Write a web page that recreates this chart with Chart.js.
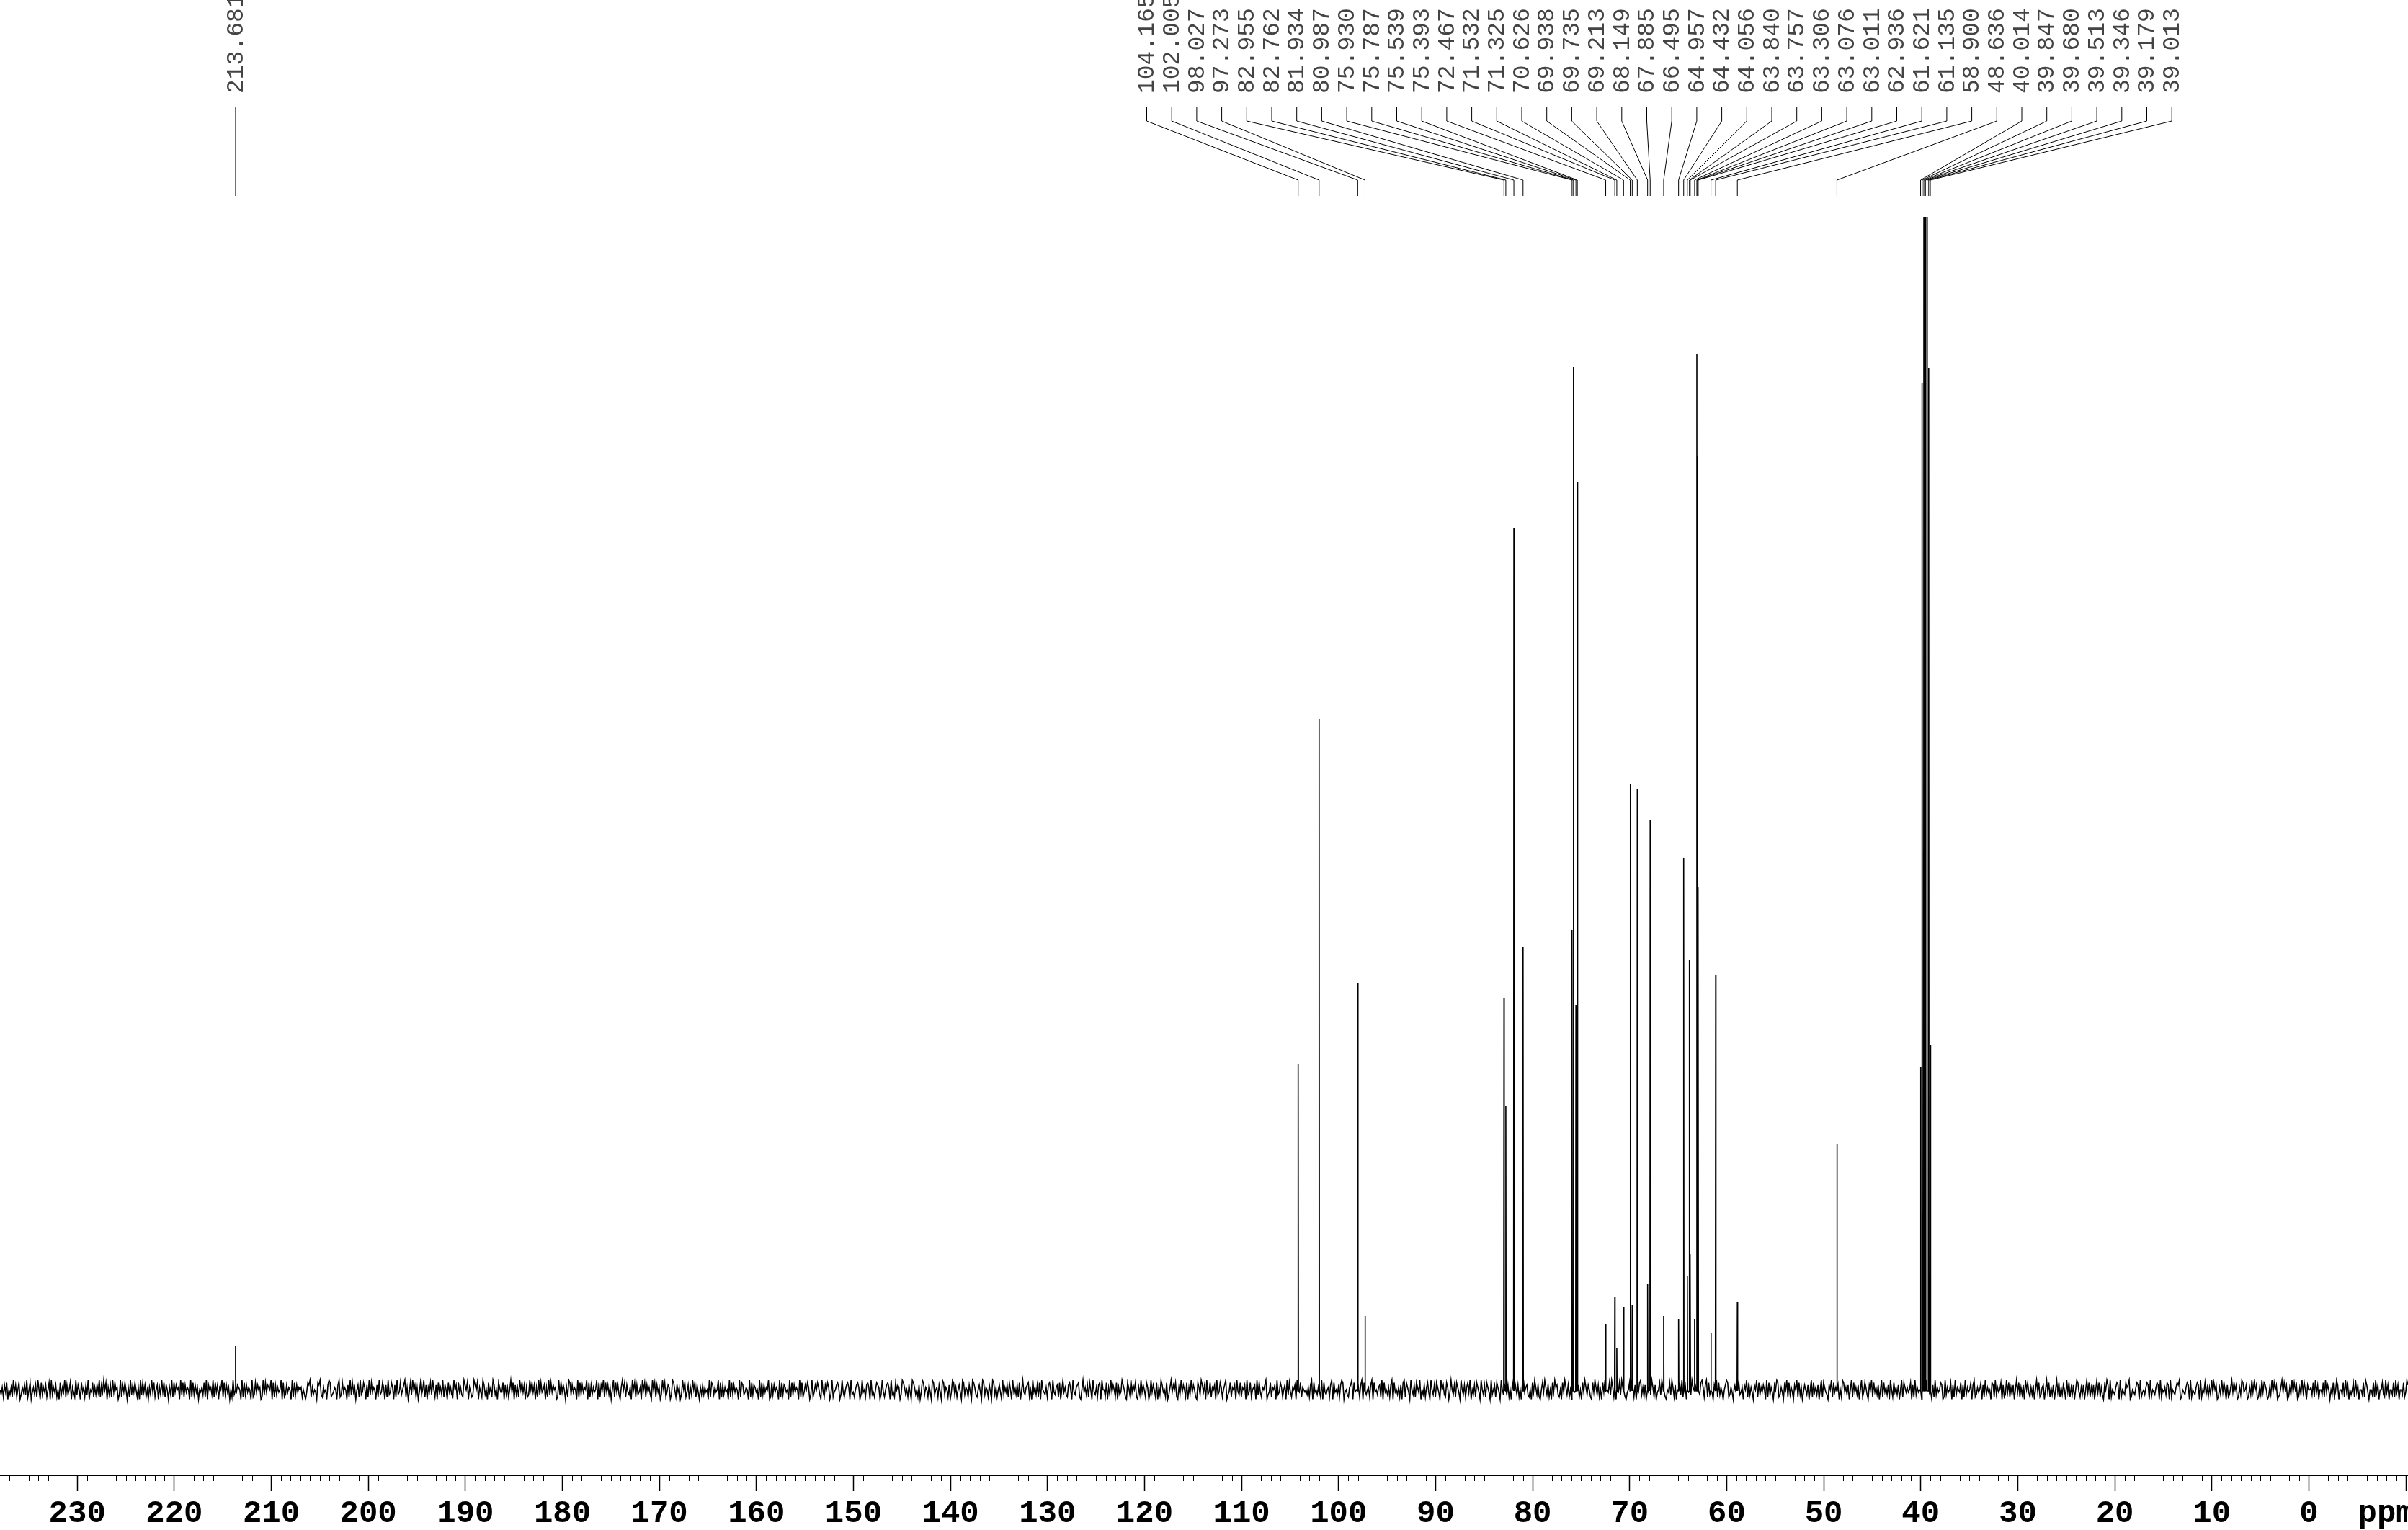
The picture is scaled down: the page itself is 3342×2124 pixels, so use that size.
<!DOCTYPE html>
<html>
<head>
<meta charset="utf-8">
<script src="https://cdn.jsdelivr.net/npm/chart.js@4.4.1/dist/chart.umd.min.js"></script>
<style>
  html, body { margin: 0; padding: 0; background: #fff; overflow: hidden; }
  canvas { display: block; }
</style>
</head>
<body>
<canvas id="nmr" width="3342" height="2134"></canvas>
<script>
// 13C peaks (ppm) and their heights (px above baseline)
const peakPpm = [
  213.681, 104.165, 102.005, 98.027, 97.273, 82.955, 82.762, 81.934, 80.987,
  75.930, 75.787, 75.539, 75.393, 72.467, 71.532, 71.325, 70.626, 69.938,
  69.735, 69.213, 68.149, 67.885, 66.495, 64.957, 64.432, 64.056, 63.840,
  63.757, 63.306, 63.076, 63.011, 62.936, 61.621, 61.135, 58.900, 48.636,
  40.014, 39.847, 39.680, 39.513, 39.346, 39.179, 39.013
];
const peakHeight = [
  62, 454, 933, 567, 104, 546, 396, 1198, 617,
  640, 1421, 536, 1262, 93, 131, 60, 117, 843,
  120, 836, 148, 793, 104, 100, 740, 160, 598,
  190, 100, 1440, 1298, 700, 80, 577, 123, 343,
  450, 1400, 1630, 1630, 1630, 1420, 480
];
// axis labels
const majorTicks = [230, 220, 210, 200, 190, 180, 170, 160, 150, 140, 130, 120,
  110, 100, 90, 80, 70, 60, 50, 40, 30, 20, 10, 0];
const unitLabel = 'ppm';
const unitTick = -8;
// visible ppm window
const ppmMax = 237.96;
const ppmMin = -10.22;

// baseline noise, one digit per sample (0..9, 4.5 = baseline)
const noiseRows = [
  "536274815362947258136473925814637295183647258193647251836492735816429375184627391548263749",
  "274958163729485613927485162937485261938472516394825716394827516392847561938274651928374615",
  "463829175639284716592837461529384765192837465192384756129384765918273645918237465192837465",
  "625314879263541879326451798234651792384651729384615729348617293846517293486172934861729348",
  "357926148395726148359271648395271846392751846329571846329758164239758164297351846297351864",
  "481736259481736295847162395847162938457162938475612938475162983746519283746591827364591827",
  "592847361592847316958274361958273461958274631958274613958247613985274613958247163958274163",
  "736451928736459182736451928374651928734651928376451928374659128374651928376451928374651928",
  "247586139247586319427586139245786139425786193425786139452786193425876139425786193428576139",
  "863527419863527149836527419835627419836527149836257419836527419863257419836527419836257419",
  "364728519463728159436782519463728195436278519436728159463278519436782159463728519436278195",
  "528163947528163497521863947582163947528613947528163974528136947582163947528163947521863974",
  "719348265719348625791348265719438265719348256719384265791348265719348625719384265719348265",
  "453627918453672918435627918453627981453267918453627918435627918453672918453627918453627189",
  "286419537286491537268419537286419573286149537286419537268491537286419537286419357286419537",
  "637251849637251894673251849637215849637251849673251849637251894637251849637521849637251849",
  "154839627154839672145839627154893627154839627145839672154839627154839267154839627154389627",
  "928364175928364157982364175928346175928364175928364751928364175982364175928364175928361475",
  "371592846371592864317592846371529846371592846371592486317592846371592846371952846371592864",
  "645817293645817239654817293645871293645817293654817293645817923645817293645187293645817239",
  "482637159482637195842637159482367159482637159482637519482637159842637159482637159482631759",
  "719254368719254386791254368719245368719254368719254638719254368791254368719254368719254836",
  "263948571263948517236948571263984571263948571263948751263948571236948571263948571263948517",
  "556382947155382947515382497155382947153582947155382974155382947155832947155382947155382497"
];

const noise = noiseRows.join('');
const pts = [];
for (let i = 0; i < noise.length; i++) {
  const ppm = ppmMax - (ppmMax - ppmMin) * i / (noise.length - 1);
  // keep the noise out of the peak flanks
  if (peakPpm.some(p => Math.abs(p - ppm) < 0.05)) continue;
  pts.push({ x: ppm, y: (noise.charCodeAt(i) - 48 - 4.5) * 3.3 });
}
peakPpm.forEach((p, i) => {
  pts.push({ x: p + 0.03, y: 0 }, { x: p, y: peakHeight[i] }, { x: p - 0.03, y: 0 });
});
pts.sort((a, b) => b.x - a.x);

const isMajor = v => majorTicks.includes(v) || v === -10;

// minor ticks + peak pick labels with their leader lines
const annot = {
  id: 'annot',
  afterDraw(chart) {
    const ctx = chart.ctx;
    const xs = chart.scales.x;
    const base = xs.top;
    ctx.save();
    ctx.strokeStyle = '#000';
    ctx.lineWidth = 1;
    for (let v = Math.ceil(ppmMin); v <= Math.floor(ppmMax); v++) {
      if (isMajor(v)) continue;
      const x = Math.round(xs.getPixelForValue(v)) + 0.5;
      ctx.beginPath();
      ctx.moveTo(x, base);
      ctx.lineTo(x, base + 8);
      ctx.stroke();
    }

    ctx.font = '33px "Liberation Mono", "Courier New", monospace';
    ctx.fillStyle = '#444';
    ctx.textAlign = 'left';
    ctx.textBaseline = 'middle';
    const groupStart = 1591.5, groupStep = 34.7;
    peakPpm.forEach((p, i) => {
      const px = xs.getPixelForValue(p);
      const lx = i === 0 ? px : groupStart + (i - 1) * groupStep;
      ctx.beginPath();
      ctx.moveTo(lx, 148);
      if (i === 0) {
        ctx.lineTo(px, 272);
      } else {
        ctx.lineTo(lx, 168);
        ctx.lineTo(px, 250);
        ctx.lineTo(px, 272);
      }
      ctx.stroke();
      ctx.save();
      ctx.translate(lx + 1, 130);
      ctx.rotate(-Math.PI / 2);
      ctx.fillText(p.toFixed(3), 0, 0);
      ctx.restore();
    });
    ctx.restore();
  }
};

new Chart(document.getElementById('nmr'), {
  type: 'line',
  data: {
    datasets: [{
      data: pts,
      borderColor: '#000',
      borderWidth: 1.6,
      pointRadius: 0,
      fill: false,
      tension: 0
    }]
  },
  options: {
    responsive: false,
    animation: false,
    devicePixelRatio: 1,
    layout: { padding: 0 },
    plugins: { legend: { display: false }, tooltip: { enabled: false } },
    scales: {
      x: {
        type: 'linear',
        reverse: true,
        min: ppmMin,
        max: ppmMax,
        border: { display: true, color: '#000', width: 2 },
        grid: {
          drawOnChartArea: false,
          tickLength: 22,
          tickWidth: 1.5,
          tickColor: c => isMajor(c.tick.value) ? '#000' : 'rgba(0,0,0,0)'
        },
        ticks: {
          stepSize: 1,
          maxTicksLimit: 1000,
          autoSkip: false,
          maxRotation: 0,
          minRotation: 0,
          includeBounds: false,
          padding: 0,
          color: '#000',
          font: { family: '"Liberation Mono", "Courier New", monospace', size: 44, weight: 'bold', lineHeight: 64 / 44 },
          callback: v => {
            if (v === unitTick) return unitLabel;
            return majorTicks.includes(v) ? String(v) : '';
          }
        }
      },
      y: { display: false, min: -117, max: 1931 }
    }
  },
  plugins: [annot]
});
</script>
</body>
</html>
